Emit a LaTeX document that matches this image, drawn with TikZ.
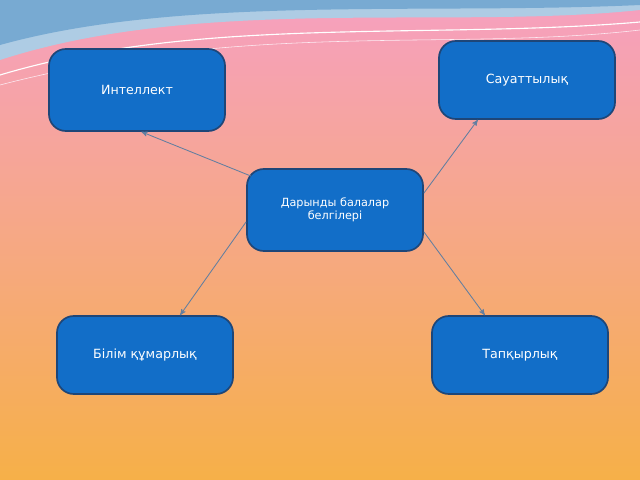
\documentclass[tikz,border=0pt]{standalone}
\usepackage{fontspec}
\setmainfont{DejaVu Sans}
\usetikzlibrary{arrows}
\definecolor{boxblue}{RGB}{18,110,200}
\definecolor{boxline}{RGB}{30,70,120}
\definecolor{pinktop}{RGB}{246,160,192}
\definecolor{orangebot}{RGB}{246,176,72}
\definecolor{wave}{RGB}{120,170,210}
\tikzset{sign/.style={draw=boxline,very thick,fill=boxblue,rounded corners=12pt,text=white,
    minimum width=4.4cm,minimum height=2.05cm,align=center,font=\small},
  link/.style={->,>=stealth',draw=boxline!70,semithick}}
\begin{document}
\begin{tikzpicture}[x=0.025cm,y=-0.025cm]
\useasboundingbox (0,0) rectangle (640,480);
\shade[top color=pinktop,bottom color=orangebot] (0,0) rectangle (640,480);
% waves at the top
\fill[wave!60] (0,0) -- (640,0) -- (640,10) .. controls (450,30) and (200,-5) .. (0,60) -- cycle;
\fill[wave] (0,0) -- (640,0) -- (640,5) .. controls (420,15) and (180,-5) .. (0,45) -- cycle;
\draw[white,thick] (640,22) .. controls (430,40) and (200,15) .. (0,75);
\draw[white!80!pinktop,thin] (640,30) .. controls (450,52) and (250,20) .. (0,85);
\node[sign] (intel) at (137,90) {Интеллект};
\node[sign,minimum height=1.95cm] (sauat) at (527,80) {Сауаттылық};
\node[sign,font=\footnotesize] (dar) at (335,210) {Дарынды балалар\\белгілері};
\node[sign,minimum height=1.95cm] (bilim) at (145,355) {Білім құмарлық};
\node[sign,minimum height=1.95cm] (tapq) at (520,355) {Тапқырлық};
\draw[link] (dar.north west) ++(5,8) coordinate (d1) -- ([xshift=-60]intel.south east);
\draw[link] (dar.north east) ++(0,25) coordinate (d2) -- ([xshift=-35]sauat.south);
\draw[link] (dar.south west) ++(0,-30) coordinate (d3) -- ([xshift=25]bilim.north);
\draw[link] (dar.south east) ++(0,-20) coordinate (d4) -- ([xshift=-25]tapq.north);
\end{tikzpicture}
\end{document}
